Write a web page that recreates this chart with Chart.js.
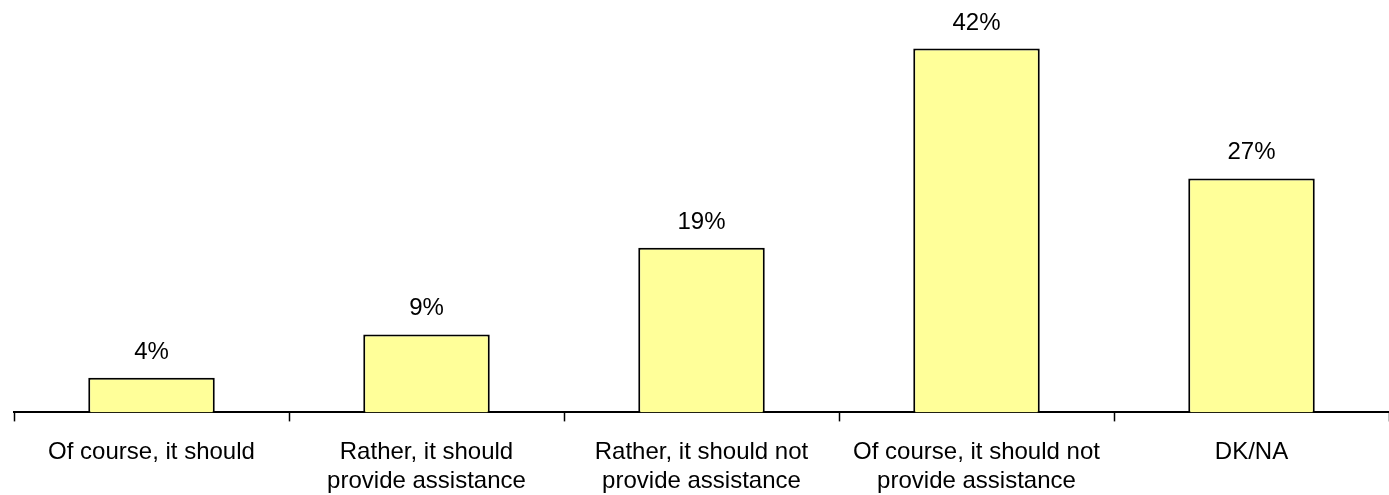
<!DOCTYPE html>
<html>
<head>
<meta charset="utf-8">
<script src="https://cdn.jsdelivr.net/npm/chart.js@4/dist/chart.umd.min.js"></script>
<style>
  html, body { margin: 0; padding: 0; background: #fff; }
  #wrap { width: 1389px; height: 495px; }
</style>
</head>
<body>
<div id="wrap"><canvas id="chart"></canvas></div>
<script>
const categories = [
    'Of course, it should',
    ['Rather, it should', 'provide assistance'],
    ['Rather, it should not', 'provide assistance'],
    ['Of course, it should not', 'provide assistance'],
    'DK/NA'
]
const values = [4, 9, 19, 42, 27]

const FONT = "'Liberation Sans', Arial, sans-serif"

// value labels above each bar
const barLabels = {
    id: 'barLabels',
    afterDatasetsDraw(chart) {
        const ctx = chart.ctx
        const meta = chart.getDatasetMeta(0)
        ctx.save()
        ctx.font = '24px ' + FONT
        ctx.fillStyle = '#000'
        ctx.textAlign = 'center'
        ctx.textBaseline = 'alphabetic'
        meta.data.forEach((bar, i) => {
            ctx.fillText(values[i] + '%', bar.x, bar.y - 19)
        })
        ctx.restore()
    }
}

new Chart(document.getElementById('chart'), {
    type: 'bar',
    data: {
        labels: categories,
        datasets: [{
            data: values,
            backgroundColor: '#FFFF99',
            borderColor: '#000',
            borderWidth: 2,
            barPercentage: 0.46,
            categoryPercentage: 1
        }]
    },
    options: {
        responsive: true,
        maintainAspectRatio: false,
        animation: false,
        layout: { padding: { left: 14, right: 0, top: 0, bottom: -18 } },
        plugins: {
            legend: { display: false },
            tooltip: { enabled: false }
        },
        scales: {
            x: {
                grid: {
                    offset: true,
                    drawOnChartArea: false,
                    drawTicks: true,
                    tickLength: 9,
                    tickWidth: 1.5,
                    tickColor: '#000'
                },
                border: { display: true, color: '#000', width: 2 },
                ticks: {
                    color: '#000',
                    font: { family: FONT, size: 24 },
                    padding: 17,
                    maxRotation: 0,
                    autoSkip: false
                }
            },
            y: {
                display: false,
                min: 0,
                max: 47.6
            }
        }
    },
    plugins: [barLabels]
})
</script>
</body>
</html>
